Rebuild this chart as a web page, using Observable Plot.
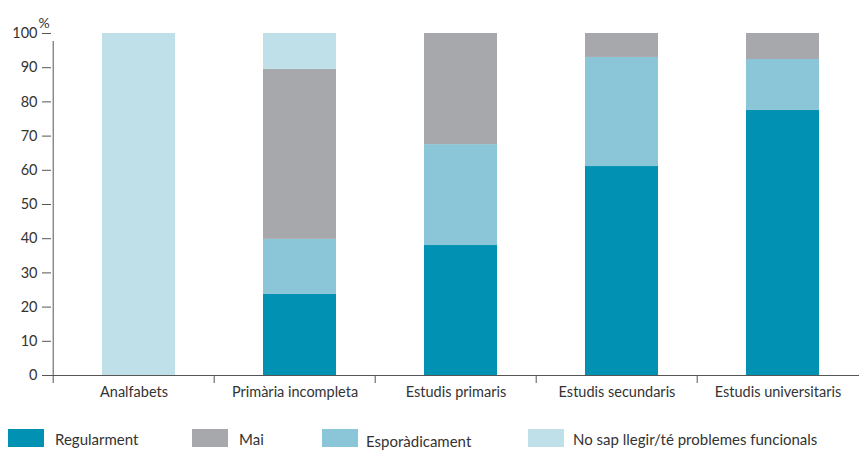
<!DOCTYPE html>
<html>
<head>
<meta charset="utf-8">
<script src="https://cdn.jsdelivr.net/npm/d3@7"></script>
<script src="https://cdn.jsdelivr.net/npm/@observablehq/plot@0.6"></script>
<style>
  html, body { margin: 0; padding: 0; background: #fff; }
  #wrap { position: relative; width: 859px; height: 450px; font-family: Lato, "Open Sans", sans-serif; color: #333; }
  #legend { position: absolute; left: 0; top: 405px; width: 859px; height: 45px; }
  .sw { position: absolute; width: 36px; height: 18px; }
  .lb { position: absolute; font-size: 15px; white-space: nowrap; line-height: 1; }
</style>
</head>
<body>
<div id="wrap">
  <div id="chart"></div>
  <div id="legend"></div>
</div>
<script>
const categories = ["Analfabets", "Primària incompleta", "Estudis primaris", "Estudis secundaris", "Estudis universitaris"];
const seriesNames = ["Regularment", "Mai", "Esporàdicament", "No sap llegir/té problemes funcionals"];
const stackOrder = ["Regularment", "Esporàdicament", "Mai", "No sap llegir/té problemes funcionals"];
const colors = ["#0091b3", "#a7a8ac", "#8ac6d8", "#bfe0e9"];
const regularment = [0, 23.7, 38, 61.1, 77.5];
const mai = [0, 49.7, 32.5, 7, 7.6];
const esporadicament = [0, 16.1, 29.5, 31.9, 14.9];
const noSap = [100, 10.5, 0, 0, 0];
const yTicks = [0, 10, 20, 30, 40, 50, 60, 70, 80, 90, 100];

const valuesBySeries = {
  "Regularment": regularment,
  "Mai": mai,
  "Esporàdicament": esporadicament,
  "No sap llegir/té problemes funcionals": noSap
};
const data = categories.flatMap((c, i) => stackOrder.map(s => ({category: c, series: s, value: valuesBySeries[s][i]})));

const W = 859, H = 405, mL = 51, mR = 0, mT = 33, mB = 30;
const bw = (W - mL - mR) / categories.length;
const axisColor = "#555";

const chart = Plot.plot({
  width: W, height: H,
  marginTop: mT, marginLeft: mL, marginRight: mR, marginBottom: mB,
  style: {fontFamily: "Lato, 'Open Sans', sans-serif", fontSize: "14.5px", color: "#333", background: "#fff"},
  x: {domain: categories, padding: 0, axis: null},
  y: {domain: [0, 100], axis: null},
  color: {domain: seriesNames, range: colors},
  marks: [
    Plot.barY(data, Plot.stackY({order: stackOrder, x: "category", y: "value", z: "series", fill: "series", insetLeft: 49, insetRight: 39})),
    Plot.axisY({ticks: yTicks, tickSize: 9, tickPadding: 5, label: null, stroke: axisColor, fill: "#333"}),
    Plot.axisX({tickSize: 0, tickPadding: 11, label: null, fill: "#333"}),
    Plot.ruleY([0], {stroke: axisColor}),
    Plot.ruleX([categories[0]], {y1: 0, y2: 100, dx: -bw / 2, insetBottom: -8, stroke: axisColor}),
    Plot.ruleX(categories, {y1: 0, y2: 0, dx: -bw / 2, insetBottom: -8, stroke: axisColor}),
    Plot.text(["%"], {frameAnchor: "top-left", dx: -13, dy: -15, fill: "#333", fontSize: 14})
  ]
});
document.getElementById("chart").appendChild(chart);

const legendPos = [
  {sx: 8, lx: 55, ly: 27},
  {sx: 192, lx: 239, ly: 27},
  {sx: 322, lx: 366, ly: 29},
  {sx: 528, lx: 573, ly: 27}
];
const legend = document.getElementById("legend");
seriesNames.forEach((s, i) => {
  const p = legendPos[i];
  const sw = document.createElement("div");
  sw.className = "sw";
  sw.style.left = p.sx + "px";
  sw.style.top = "24px";
  sw.style.background = colors[i];
  legend.appendChild(sw);
  const lb = document.createElement("div");
  lb.className = "lb";
  lb.style.left = p.lx + "px";
  lb.style.top = p.ly + "px";
  lb.textContent = s;
  legend.appendChild(lb);
});
</script>
</body>
</html>
